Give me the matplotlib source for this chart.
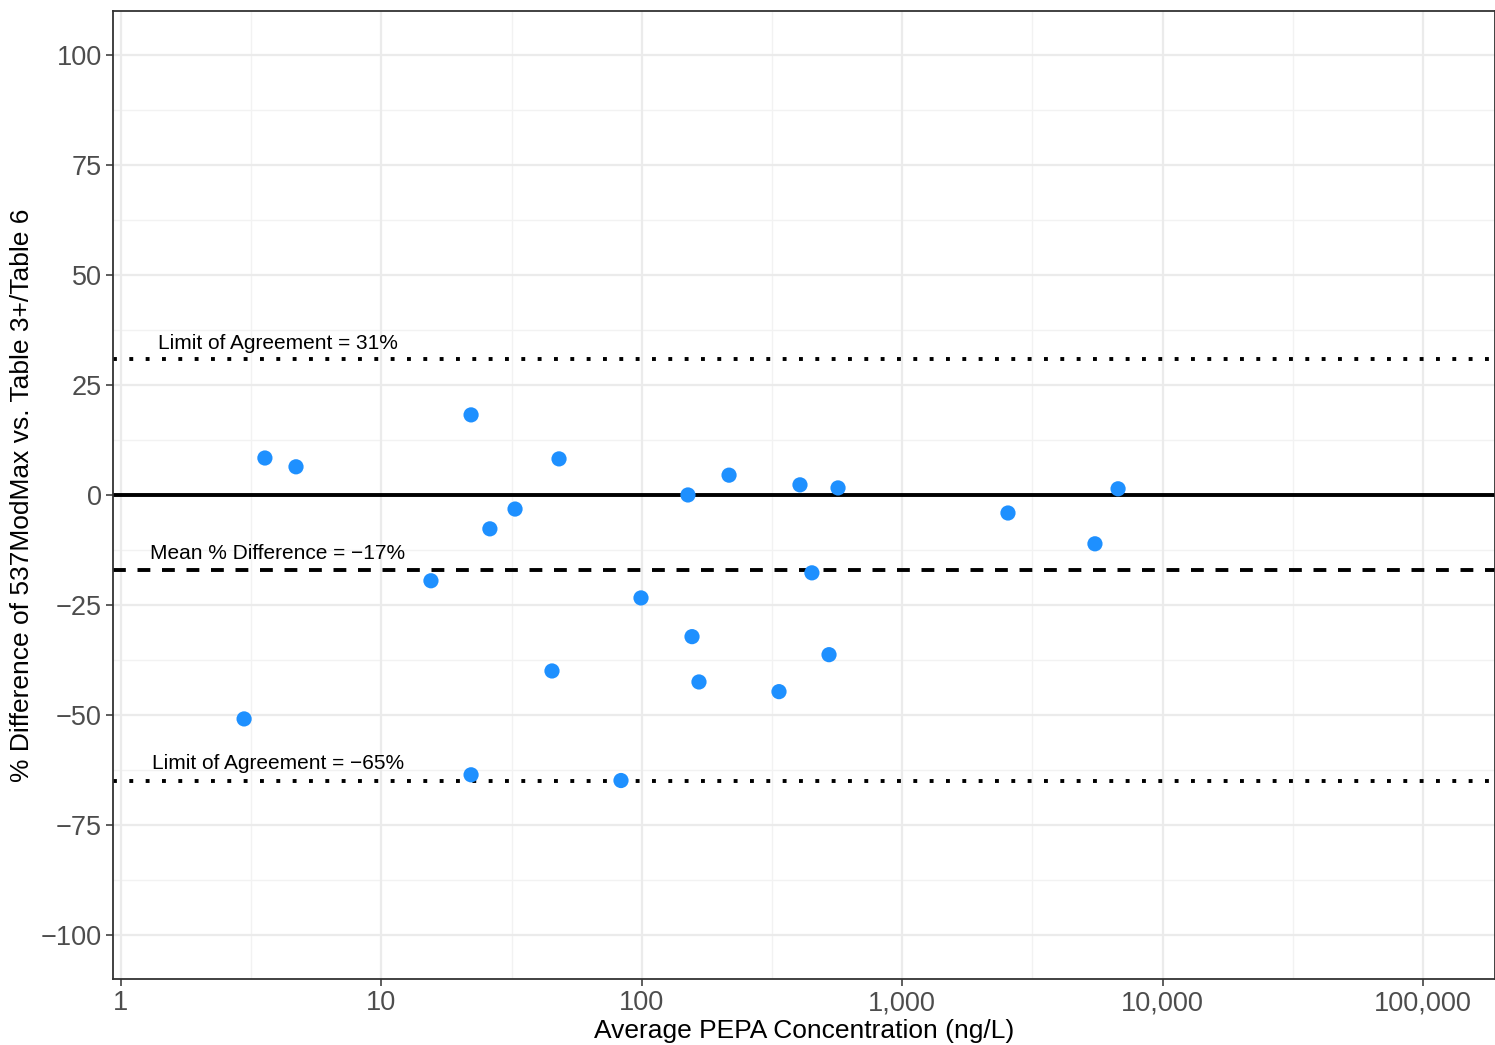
import matplotlib.pyplot as plt
import numpy as np
from matplotlib.ticker import FixedLocator, FuncFormatter

plt.rcParams["font.family"] = ["Liberation Sans", "DejaVu Sans"]

# average concentration (ng/L) and % difference for each sample
avg_conc = [3.57, 4.70, 2.97, 22.1, 22.1, 15.5, 26.1, 32.6, 48.1, 45.2, 83.2, 99.3,
            150.4, 155.9, 165.8, 216.3, 336.4, 405, 450, 523.6, 567, 2548, 5498, 6745]
pct_diff = [8.4, 6.4, -50.9, 18.2, -63.6, -19.5, -7.7, -3.2, 8.2, -40.0, -64.9, -23.4,
            0.0, -32.2, -42.5, 4.5, -44.7, 2.3, -17.7, -36.3, 1.6, -4.1, -11.1, 1.4]

mean_diff = -17
upper_loa = 31
lower_loa = -65

x_breaks = [1, 10, 100, 1000, 10000, 100000]
y_breaks = [100, 75, 50, 25, 0, -25, -50, -75, -100]

fig = plt.figure(figsize=(14.95, 10.45), dpi=100)
ax = fig.add_axes([0.0756, 0.0632, 0.9244, 0.9263])

ax.set_xscale("log")
ax.set_xlim(0.932, 189000)
ax.set_ylim(-110, 110)

# ggplot-like grid: major at breaks, minor halfway between them
x_minor = [10 ** (k + 0.5) for k in range(0, 6)]
y_minor = [87.5, 62.5, 37.5, 12.5, -12.5, -37.5, -62.5, -87.5]
for xv in x_minor:
    ax.axvline(xv, color="#F2F2F2", lw=1.0, zorder=0)
for yv in y_minor:
    ax.axhline(yv, color="#F2F2F2", lw=1.0, zorder=0)
for xv in x_breaks:
    ax.axvline(xv, color="#EBEBEB", lw=1.6, zorder=0)
for yv in y_breaks:
    ax.axhline(yv, color="#EBEBEB", lw=1.6, zorder=0)

ax.axhline(0, color="black", lw=2.8, zorder=2)
ax.axhline(mean_diff, color="black", lw=2.8, linestyle=(0, (3.3, 3.0)), zorder=2)
ax.axhline(upper_loa, color="black", lw=2.8, linestyle=(0, (1, 3.2)),
           dash_capstyle="butt", zorder=2)
ax.axhline(lower_loa, color="black", lw=2.8, linestyle=(0, (1, 3.2)),
           dash_capstyle="butt", zorder=2)

ax.scatter(avg_conc, pct_diff, s=120, color="#1E90FF", edgecolors="none", zorder=3)

label_x = 4.0
ax.text(label_x, upper_loa + 3.4, f"Limit of Agreement = {upper_loa}%",
        ha="center", va="center", fontsize=15, zorder=4)
ax.text(label_x, mean_diff + 3.6, f"Mean % Difference = \u2212{abs(mean_diff)}%",
        ha="center", va="center", fontsize=15, zorder=4)
ax.text(label_x, lower_loa + 3.9, f"Limit of Agreement = \u2212{abs(lower_loa)}%",
        ha="center", va="center", fontsize=15, zorder=4)

ax.xaxis.set_major_locator(FixedLocator(x_breaks))
ax.xaxis.set_minor_locator(FixedLocator([]))
ax.xaxis.set_major_formatter(FuncFormatter(lambda v, p: f"{int(round(v)):,}"))
ax.yaxis.set_major_locator(FixedLocator(y_breaks))
ax.yaxis.set_major_formatter(FuncFormatter(lambda v, p: f"{int(v)}".replace("-", "\u2212")))

ax.tick_params(axis="both", which="major", direction="out", length=5, width=1.1,
               color="#333333", labelcolor="#4D4D4D", labelsize=19.5, pad=3)
for sp in ax.spines.values():
    sp.set_color("#333333")
    sp.set_linewidth(1.3)

ax.set_xlabel("Average PEPA Concentration (ng/L)", fontsize=19, labelpad=2)
ax.set_ylabel("% Difference of 537ModMax vs. Table 3+/Table 6", fontsize=19, labelpad=5)

fig.savefig("out.png", dpi=100)
